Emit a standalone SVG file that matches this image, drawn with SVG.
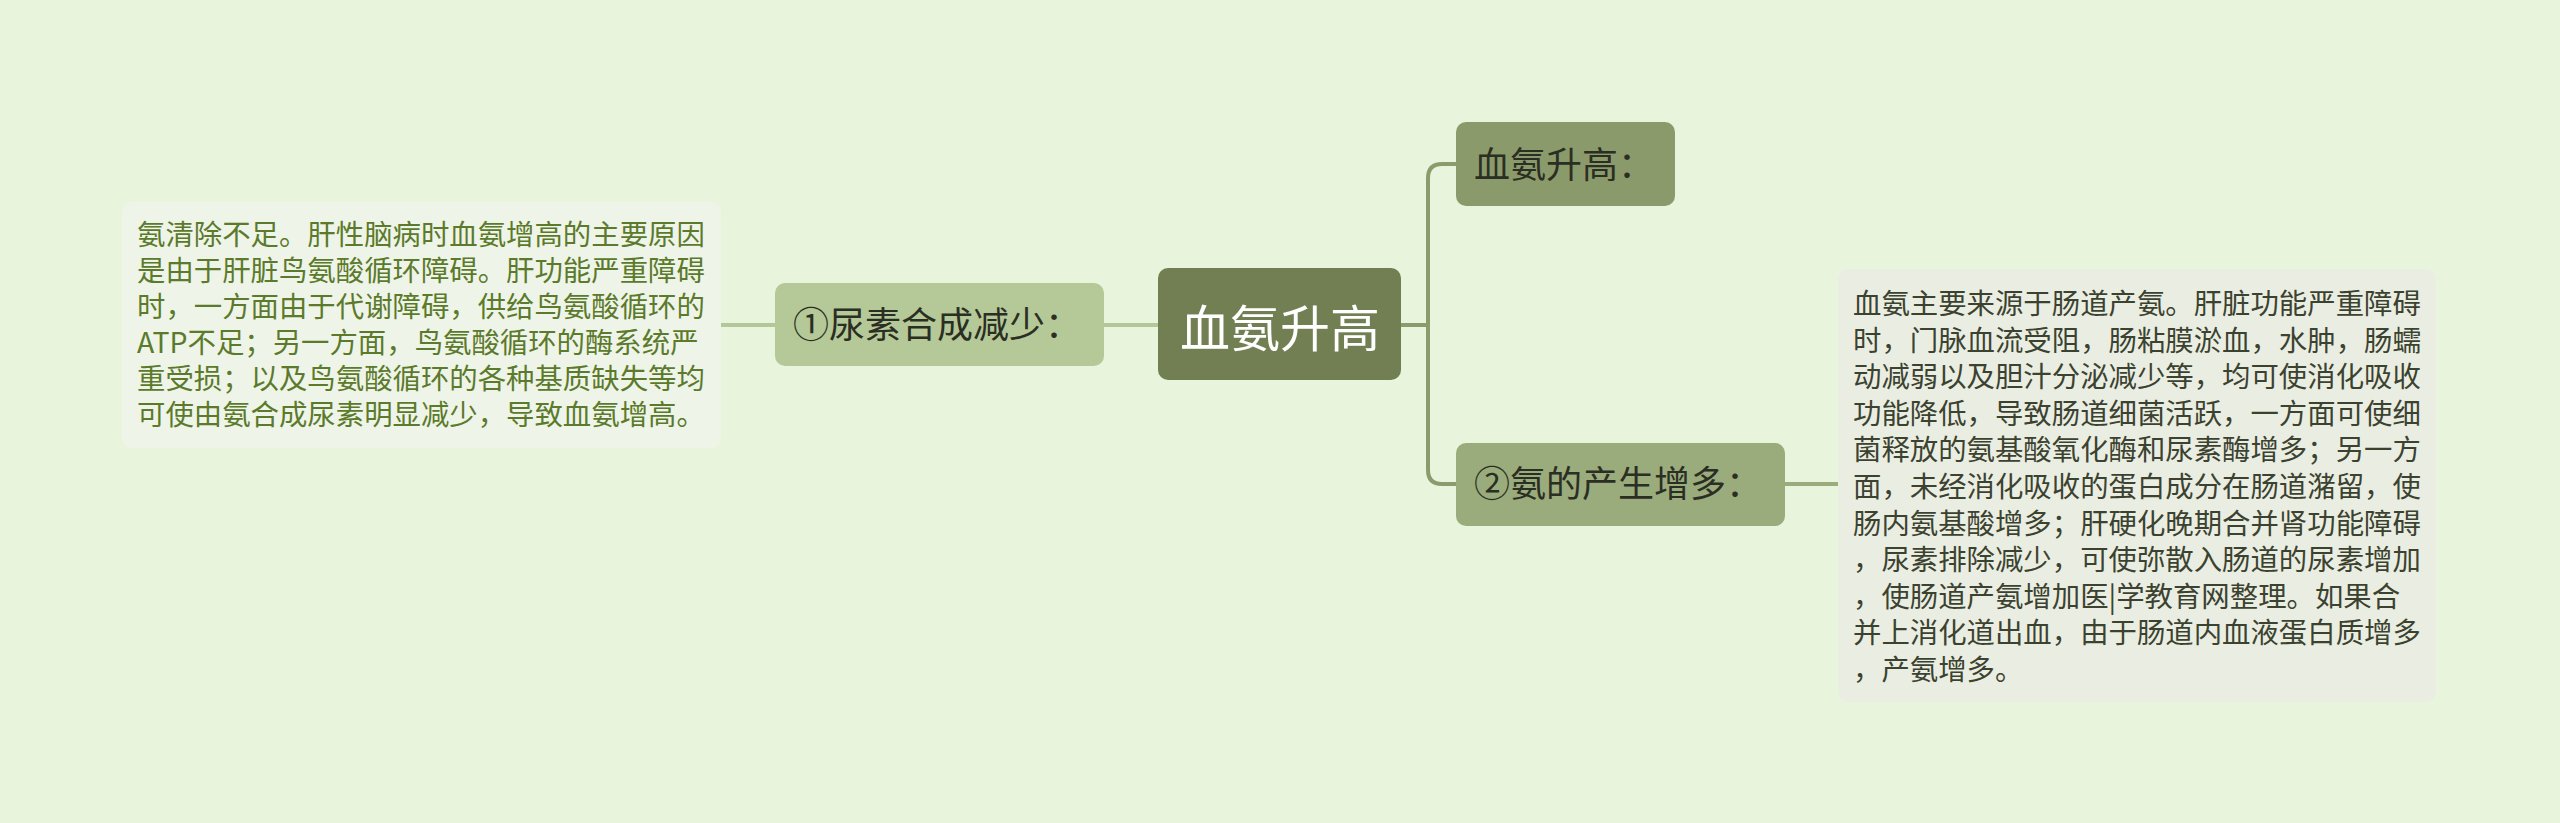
<svg xmlns="http://www.w3.org/2000/svg" width="2560" height="823" viewBox="0 0 2560 823">
<style>
.t{font-family:"Noto Sans CJK SC","Liberation Sans",sans-serif;}
.body{font-size:28.4px;}
.br{font-size:36px;fill:#2b2e22;}
.cen{font-size:50px;fill:#ffffff;}
.lc{fill:none;stroke:#b3c898;stroke-width:4;}
.rc{fill:none;stroke:#8c9b6c;stroke-width:4;}
</style>
<rect x="0" y="0" width="2560" height="823" fill="#e8f5dc"/>
<g id="connectors">
<path class="lc" d="M721 325 H775"/>
<path class="lc" d="M1104 325 H1158"/>
<path class="rc" d="M1401 325 H1428"/>
<path class="rc" d="M1456 164 H1442 Q1428 164 1428 178 V470 Q1428 484 1442 484 H1456"/>
<path class="lc" style="stroke:#9aab7c" d="M1785 484 H1838"/>
</g>
<g id="center">
<rect x="1158" y="268" width="243" height="112" rx="10" fill="#717f52"/>
<text class="t cen" x="1280" y="347" text-anchor="middle">血氨升高</text>
</g>
<g id="left-node">
<rect x="775" y="283" width="329" height="83" rx="10" fill="#b4c898"/>
<text class="t br" x="793" y="338">①尿素合成减少：</text>
</g>
<g id="left-text">
<rect x="122" y="202" width="599" height="246" rx="10" fill="#eff4e8"/>
<text class="t body" fill="#5b7a2b">
<tspan x="137" y="245">氨清除不足。肝性脑病时血氨增高的主要原因</tspan>
<tspan x="137" y="281">是由于肝脏鸟氨酸循环障碍。肝功能严重障碍</tspan>
<tspan x="137" y="317">时，一方面由于代谢障碍，供给鸟氨酸循环的</tspan>
<tspan x="137" y="353">ATP不足；另一方面，鸟氨酸循环的酶系统严</tspan>
<tspan x="137" y="389">重受损；以及鸟氨酸循环的各种基质缺失等均</tspan>
<tspan x="137" y="425">可使由氨合成尿素明显减少，导致血氨增高。</tspan>
</text>
</g>
<g id="top-right-node">
<rect x="1456" y="122" width="219" height="84" rx="10" fill="#8b9a6b"/>
<text class="t br" x="1474" y="178">血氨升高：</text>
</g>
<g id="bottom-right-node">
<rect x="1456" y="443" width="329" height="83" rx="10" fill="#9aab7c"/>
<text class="t br" x="1474" y="497">②氨的产生增多：</text>
</g>
<g id="right-text">
<rect x="1838" y="269" width="598" height="433" rx="10" fill="#eaeee2"/>
<text class="t body" fill="#3c4230">
<tspan x="1853" y="314">血氨主要来源于肠道产氨。肝脏功能严重障碍</tspan>
<tspan x="1853" y="350.6">时，门脉血流受阻，肠粘膜淤血，水肿，肠蠕</tspan>
<tspan x="1853" y="387.2">动减弱以及胆汁分泌减少等，均可使消化吸收</tspan>
<tspan x="1853" y="423.8">功能降低，导致肠道细菌活跃，一方面可使细</tspan>
<tspan x="1853" y="460.4">菌释放的氨基酸氧化酶和尿素酶增多；另一方</tspan>
<tspan x="1853" y="497">面，未经消化吸收的蛋白成分在肠道潴留，使</tspan>
<tspan x="1853" y="533.6">肠内氨基酸增多；肝硬化晚期合并肾功能障碍</tspan>
<tspan x="1853" y="570.2">，尿素排除减少，可使弥散入肠道的尿素增加</tspan>
<tspan x="1853" y="606.8">，使肠道产氨增加医|学教育网整理。如果合</tspan>
<tspan x="1853" y="643.4">并上消化道出血，由于肠道内血液蛋白质增多</tspan>
<tspan x="1853" y="680">，产氨增多。</tspan>
</text>
</g>
</svg>
